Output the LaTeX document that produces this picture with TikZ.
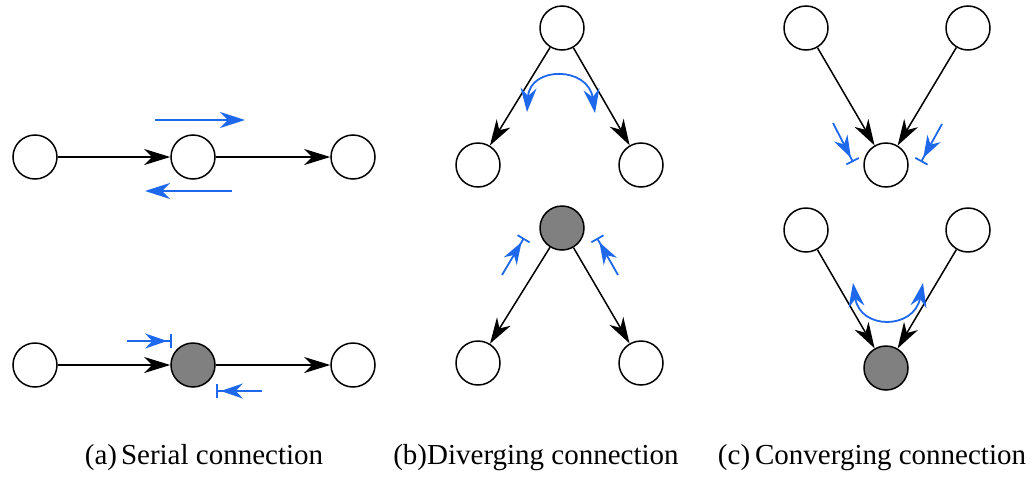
\documentclass[tikz,border=0pt]{standalone}
\usepackage{fontspec}
\setmainfont{Liberation Serif}
\usetikzlibrary{arrows.meta}
\definecolor{annblue}{RGB}{30,105,235}
\definecolor{obsgrey}{RGB}{128,128,128}
\begin{document}
\begin{tikzpicture}[x=1pt,y=-1pt,
  var/.style={circle,draw=black,line width=1.5pt,minimum size=44pt,inner sep=0pt,fill=white},
  obs/.style={var,fill=obsgrey},
  causal/.style={line width=1.5pt,-{Stealth[length=26pt,width=16pt,inset=8pt]}},
  flow/.style={annblue,line width=1.8pt,-{Stealth[length=25pt,width=16pt,inset=8pt]}},
  flow2/.style={annblue,line width=1.8pt,{Stealth[length=24pt,width=16pt,inset=8pt]}-{Stealth[length=24pt,width=16pt,inset=8pt]}},
  blocked/.style={annblue,line width=1.8pt,-{Stealth[length=22pt,width=15pt,inset=7pt,sep=3pt]Bar[width=14pt,line width=1.8pt]}},
  captext/.style={font=\fontsize{29}{34}\selectfont}]
\useasboundingbox (0,0) rectangle (1034,477);

% (a) serial
\node[var] (a1) at (35,157) {};
\node[var] (a2) at (193,157) {};
\node[var] (a3) at (353,157) {};
\draw[causal] (a1) -- (a2);
\draw[causal] (a2) -- (a3);
\coordinate (f1s) at (155,120); \coordinate (f1e) at (245,120);
\coordinate (f2s) at (232,191); \coordinate (f2e) at (145,191);
\draw[flow] (f1s) -- (f1e);
\draw[flow] (f2s) -- (f2e);

\node[var] (b1) at (35,365) {};
\node[obs] (b2) at (193,365) {};
\node[var] (b3) at (353,365) {};
\draw[causal] (b1) -- (b2);
\draw[causal] (b2) -- (b3);
\coordinate (g1s) at (127,341); \coordinate (g1e) at (172,341);
\coordinate (g2s) at (262,391); \coordinate (g2e) at (216,391);
\draw[blocked] (g1s) -- (g1e);
\draw[blocked] (g2s) -- (g2e);

% (b) diverging
\node[var] (c0) at (562,28) {};
\node[var] (c1) at (478,165) {};
\node[var] (c2) at (641,165) {};
\draw[causal] (c0) -- (c1);
\draw[causal] (c0) -- (c2);
\coordinate (h1) at (527,112); \coordinate (h2) at (595,113);
\draw[flow2] (h1) .. controls (530,66) and (588,66) .. (h2);

\node[obs] (d0) at (562,228) {};
\node[var] (d1) at (478,363) {};
\node[var] (d2) at (641,363) {};
\draw[causal] (d0) -- (d1);
\draw[causal] (d0) -- (d2);
\coordinate (k1s) at (502,275); \coordinate (k1e) at (524,238);
\coordinate (k2s) at (618,275); \coordinate (k2e) at (597,238);
\draw[blocked] (k1s) -- (k1e);
\draw[blocked] (k2s) -- (k2e);

% (c) converging
\node[var] (e1) at (806,28) {};
\node[var] (e2) at (968,28) {};
\node[var] (e0) at (886,165) {};
\draw[causal] (e1) -- (e0);
\draw[causal] (e2) -- (e0);
\coordinate (m1s) at (833,123); \coordinate (m1e) at (853,162);
\coordinate (m2s) at (942,124); \coordinate (m2e) at (921,162);
\draw[blocked] (m1s) -- (m1e);
\draw[blocked] (m2s) -- (m2e);

\node[var] (p1) at (806,230) {};
\node[var] (p2) at (968,230) {};
\node[obs] (p0) at (886,368) {};
\draw[causal] (p1) -- (p0);
\draw[causal] (p2) -- (p0);
\coordinate (n1) at (853,283); \coordinate (n2) at (923,283);
\draw[flow2] (n1) .. controls (860,330) and (914,330) .. (n2);

% captions
\node[captext] (capa) at (204,458) {(a)\hspace{4pt}Serial connection};
\node[captext] (capb) at (536,458) {(b)Diverging connection};
\node[captext] (capc) at (872,458) {(c)\hspace{5pt}Converging connection};
\end{tikzpicture}
\end{document}
